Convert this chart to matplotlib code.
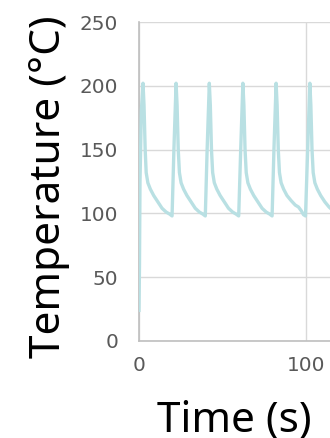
import matplotlib.pyplot as plt

# Temperature trace
time_s = [0, 0.3, 0.6, 1.4, 2.4, 3.0, 3.7, 4.3, 5.3, 6.8, 8.8, 11.3, 13.8, 16.3, 18.3, 19.8,
          20.9, 22.2, 22.8, 23.5, 24.2, 25.2, 26.7, 28.7, 31.2, 33.7, 36.2, 38.2, 39.7,
          40.8, 42.1, 42.7, 43.4, 44.1, 45.1, 46.6, 48.6, 51.1, 53.6, 56.1, 58.1, 59.7,
          60.9, 62.2, 62.8, 63.5, 64.2, 65.2, 66.7, 68.7, 71.2, 73.7, 76.2, 78.2, 79.7,
          80.8, 82.1, 82.7, 83.4, 84.1, 85.1, 86.6, 88.6, 91.1, 93.6, 95.5, 97.2, 98.5, 99.7,
          101.0, 102.3, 102.9, 103.6, 104.3, 105.3, 106.8, 108.8, 111.3, 113.8, 116.3, 118.3]
temp_c = [24, 60, 125, 180, 202, 185, 150, 132, 124, 119, 114, 109, 104, 101, 99.5, 98,
          150, 202, 185, 150, 132, 124, 119, 114, 109, 104, 101, 99.5, 98,
          150, 202, 185, 150, 132, 124, 119, 114, 109, 104, 101, 99.5, 98,
          150, 202, 185, 150, 132, 124, 119, 114, 109, 104, 101, 99.5, 98,
          150, 202, 185, 150, 132, 124, 119, 114, 110, 106.5, 105, 102, 99, 98,
          150, 202, 185, 150, 132, 124, 119, 114, 109, 105, 102, 100]

x_ticks = [0, 100]
y_ticks = [0, 50, 100, 150, 200, 250]

fig = plt.figure(figsize=(3.3, 4.38), dpi=100)
# axes run past the right edge of the picture, like the cropped original
ax = fig.add_axes([139 / 330, 97 / 438, 334 / 330, 319 / 438])

ax.plot(time_s, temp_c, color='#b9e0e3', linewidth=2.4, zorder=3)

ax.set_xlim(0, 200)
ax.set_ylim(0, 250)
ax.set_xticks(x_ticks)
ax.set_yticks(y_ticks)
ax.grid(True, color='#d9d9d9', linewidth=1.0)
ax.set_axisbelow(True)
for side in ['top', 'right']:
    ax.spines[side].set_visible(False)
for side in ['left', 'bottom']:
    ax.spines[side].set_color('#bfbfbf')
    ax.spines[side].set_linewidth(1.2)
ax.tick_params(axis='both', length=0, labelsize=14.4, labelcolor='#595959')
ax.tick_params(axis='y', pad=15)
ax.tick_params(axis='x', pad=11)

lab_font = ['Noto Sans', 'DejaVu Sans']
fig.text(234 / 330, 6 / 438, 'Time (s)', family=lab_font, fontsize=30.5,
         ha='center', va='baseline', color='black')
fig.text(60 / 330, 1 - 358 / 438, 'Temperature (°C)', family=lab_font, fontsize=30.5,
         rotation=90, rotation_mode='anchor', ha='left', va='baseline', color='black')

fig.savefig('out.png', dpi=100)
